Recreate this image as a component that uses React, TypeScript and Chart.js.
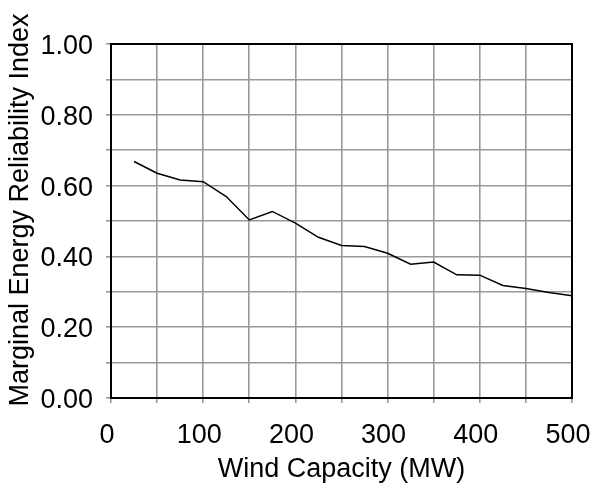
import React, { useEffect, useRef } from "react";
import { Chart, registerables } from "chart.js";

Chart.register(...registerables);

const capacities = [25, 50, 75, 100, 125, 150, 175, 200, 225, 250, 275, 300, 325, 350, 375, 400, 425, 450, 475, 500];
const reliability = [0.668, 0.635, 0.616, 0.611, 0.569, 0.503, 0.527, 0.494, 0.454, 0.431, 0.428, 0.409, 0.378, 0.384, 0.348, 0.347, 0.318, 0.309, 0.298, 0.289];
const xTitle = "Wind Capacity (MW)";
const yTitle = "Marginal Energy Reliability Index";

const FONT = "Liberation Sans, Arial, sans-serif";

const framePlugin = {
  id: "frame",
  afterDraw(chart: any) {
    const { ctx, chartArea } = chart;
    ctx.save();
    ctx.strokeStyle = "#000";
    ctx.lineWidth = 2;
    ctx.strokeRect(chartArea.left, chartArea.top, chartArea.right - chartArea.left, chartArea.bottom - chartArea.top);
    ctx.fillStyle = "#000";
    ctx.font = `27px ${FONT}`;
    ctx.textBaseline = "alphabetic";
    ctx.textAlign = "center";
    ctx.fillText(xTitle, (chartArea.left + chartArea.right) / 2, 477);
    ctx.translate(28, 210);
    ctx.rotate(-Math.PI / 2);
    ctx.fillText(yTitle, 0, 0);
    ctx.restore();
  },
};

export default function App() {
  const ref = useRef<HTMLCanvasElement>(null);
  useEffect(() => {
    const chart = new Chart(ref.current!, {
      type: "line",
      data: {
        datasets: [
          {
            data: capacities.map((c, i) => ({ x: c, y: reliability[i] })),
            borderColor: "#000",
            borderWidth: 1.5,
            pointRadius: 0,
            fill: false,
            tension: 0,
          },
        ],
      },
      options: {
        animation: false,
        responsive: false,
        layout: { padding: { top: 44, right: 22, left: 0, bottom: 0 } },
        plugins: { legend: { display: false }, tooltip: { enabled: false } },
        scales: {
          x: {
            type: "linear",
            min: 0,
            max: 500,
            afterFit(scale: any) {
              scale.height = 87;
              scale.paddingLeft = 0;
              scale.paddingRight = 0;
            },
            border: { display: true, color: "#000", width: 2 },
            grid: { color: "#999", lineWidth: 1.6, tickLength: 5, drawTicks: true },
            ticks: {
              stepSize: 50,
              autoSkip: false,
              maxRotation: 0,
              padding: 16,
              labelOffset: -4,
              color: "#000",
              font: { family: FONT, size: 27 },
              callback: (v: any) => (Math.round(v) % 100 === 0 ? String(Math.round(v)) : ""),
            },
          },
          y: {
            type: "linear",
            min: 0,
            max: 1,
            afterFit(scale: any) {
              scale.width = 111;
              scale.paddingTop = 0;
              scale.paddingBottom = 0;
            },
            border: { display: true, color: "#000", width: 2 },
            grid: { color: "#999", lineWidth: 1.6, tickLength: 5, drawTicks: true },
            ticks: {
              stepSize: 0.1,
              autoSkip: false,
              padding: 13,
              labelOffset: 2.5,
              color: "#000",
              font: { family: FONT, size: 27 },
              callback: (v: any) => (Math.round(v * 10) % 2 === 0 ? Number(v).toFixed(2) : ""),
            },
          },
        },
      },
      plugins: [framePlugin],
    });
    return () => chart.destroy();
  }, []);
  return (
    <div style={{ position: "fixed", left: 0, top: 0, width: 594, height: 485, background: "#fff" }}>
      <canvas ref={ref} width={594} height={485} style={{ display: "block" }} />
    </div>
  );
}
